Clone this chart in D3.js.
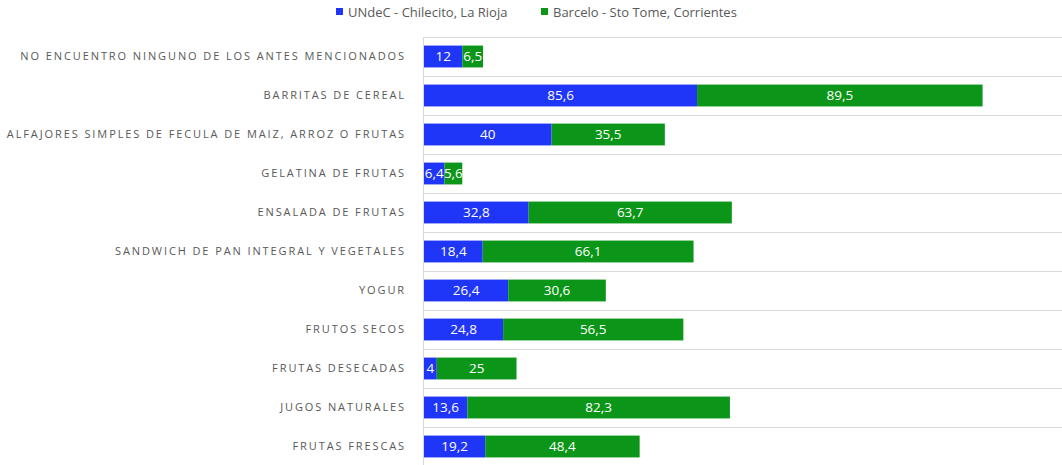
<!doctype html>
<html lang="es">
<head>
  <meta charset="utf-8">
  <title>Colaciones</title>
  <style>
    body { margin: 0; background: #fff; }
    #chart { width: 1062px; height: 465px; }
    .cat text { fill: #595959; font: 11px "Open Sans", sans-serif; letter-spacing: 1.9px; }
    .val { fill: #fff; font: 13.5px "Open Sans", sans-serif; text-anchor: middle; }
    .legend text { fill: #595959; font: 13px "Open Sans", sans-serif; }
  </style>
</head>
<body>
  <div id="chart"></div>
  <script src="https://d3js.org/d3.v7.min.js"></script>
  <script>
// data, top to bottom
const categories = [
  'NO ENCUENTRO NINGUNO DE LOS ANTES MENCIONADOS',
  'BARRITAS DE CEREAL',
  'ALFAJORES SIMPLES DE FECULA DE MAIZ, ARROZ O FRUTAS',
  'GELATINA DE FRUTAS',
  'ENSALADA DE FRUTAS',
  'SANDWICH DE PAN INTEGRAL Y VEGETALES',
  'YOGUR',
  'FRUTOS SECOS',
  'FRUTAS DESECADAS',
  'JUGOS NATURALES',
  'FRUTAS FRESCAS'
];
const undec = [12, 85.6, 40, 6.4, 32.8, 18.4, 26.4, 24.8, 4, 13.6, 19.2];
const barcelo = [6.5, 89.5, 35.5, 5.6, 63.7, 66.1, 30.6, 56.5, 25, 82.3, 48.4];
const seriesNames = ['UNdeC - Chilecito, La Rioja', 'Barcelo - Sto Tome, Corrientes'];
const colors = ['#1f35f7', '#0b9619'];

const width = 1062, height = 465;
const margin = { top: 37, right: 0, bottom: 0, left: 424 };

const svg = d3.select('#chart').append('svg')
  .attr('width', width)
  .attr('height', height);

const x = d3.scaleLinear().domain([0, 200]).range([margin.left, width - margin.right]);
const y = d3.scaleBand().domain(categories).range([margin.top, height + 1]).paddingInner(0.44).paddingOuter(0.22);

// horizontal separators between categories
const step = y.step();
const lines = d3.range(categories.length + 1).map(i => margin.top + i * step);
svg.append('g').selectAll('line')
  .data(lines)
  .join('line')
  .attr('x1', margin.left).attr('x2', width)
  .attr('y1', d => Math.round(d) + 0.5).attr('y2', d => Math.round(d) + 0.5)
  .attr('stroke', '#d9d9d9');

// left axis line
svg.append('line')
  .attr('x1', margin.left - 0.5).attr('x2', margin.left - 0.5)
  .attr('y1', margin.top).attr('y2', height)
  .attr('stroke', '#d9d9d9');

const rows = categories.map((c, i) => ({ cat: c, a: undec[i], b: barcelo[i] }));
const stack = d3.stack().keys(['a', 'b'])(rows);

const layers = svg.append('g').selectAll('g')
  .data(stack)
  .join('g')
  .attr('fill', (d, i) => colors[i]);

layers.selectAll('rect')
  .data(d => d)
  .join('rect')
  .attr('x', d => x(d[0]))
  .attr('y', d => y(d.data.cat))
  .attr('width', d => x(d[1]) - x(d[0]))
  .attr('height', y.bandwidth());

layers.selectAll('text')
  .data(d => d)
  .join('text')
  .attr('class', 'val')
  .attr('x', d => (x(d[0]) + x(d[1])) / 2)
  .attr('y', d => y(d.data.cat) + y.bandwidth() / 2)
  .attr('dy', '0.36em')
  .text(d => String(+(d[1] - d[0]).toFixed(1)).replace('.', ','));

// category labels
svg.append('g').attr('class', 'cat')
  .selectAll('text')
  .data(categories)
  .join('text')
  .attr('x', 406)
  .attr('y', d => y(d) + y.bandwidth() / 2)
  .attr('dy', '0.36em')
  .attr('text-anchor', 'end')
  .text(d => d);

// legend
const legendX = [336, 541];
const legend = svg.append('g').attr('class', 'legend')
  .selectAll('g')
  .data(seriesNames)
  .join('g')
  .attr('transform', (d, i) => `translate(${legendX[i]},0)`);
legend.append('rect')
  .attr('y', 8).attr('width', 7).attr('height', 7)
  .attr('fill', (d, i) => colors[i]);
legend.append('text')
  .attr('x', 12).attr('y', 12)
  .attr('dy', '0.36em')
  .text(d => d);
  </script>
</body>
</html>
